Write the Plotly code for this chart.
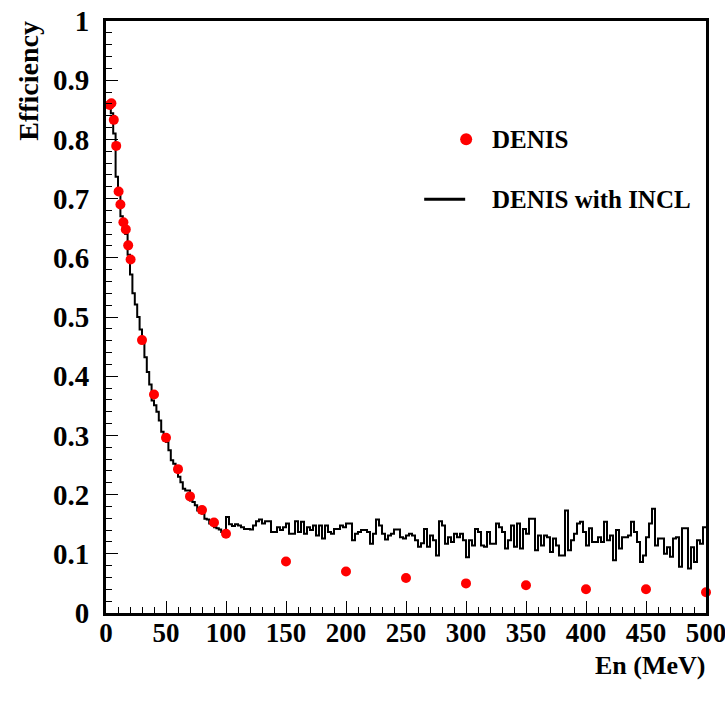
import numpy as np
import plotly.graph_objects as go

# ---- DENIS measured points ----
denis_en = [3, 4.5, 6.5, 8.5, 10.5, 12, 14.5, 16.5, 18.5, 20.5,
            30, 40, 50, 60, 70, 80, 90, 100,
            150, 200, 250, 300, 350, 400, 450, 500]
denis_eff = [0.858, 0.861, 0.833, 0.789, 0.712, 0.690, 0.660, 0.648, 0.621, 0.597,
             0.461, 0.369, 0.296, 0.243, 0.197, 0.174, 0.153, 0.134,
             0.087, 0.070, 0.059, 0.050, 0.047, 0.040, 0.040, 0.035]

# ---- DENIS with INCL histogram (2 MeV bins below 100 MeV, 2.5 MeV bins above) ----
incl_0_100 = [0.862, 0.855, 0.844, 0.810, 0.737, 0.712, 0.670, 0.658, 0.640, 0.605, 0.572,
              0.540, 0.521, 0.500, 0.479, 0.458, 0.432, 0.407, 0.386, 0.359, 0.351, 0.340,
              0.325, 0.306, 0.292, 0.289, 0.275, 0.258, 0.252, 0.238, 0.230, 0.221, 0.210,
              0.207, 0.207, 0.190, 0.1875, 0.182, 0.173, 0.169, 0.168, 0.159, 0.158, 0.151,
              0.149, 0.145, 0.143, 0.141, 0.137, 0.134]
incl_100_200 = [0.162, 0.150, 0.147, 0.150, 0.148, 0.145, 0.142, 0.142, 0.141, 0.148,
                0.155, 0.158, 0.151, 0.155, 0.155, 0.137, 0.137, 0.145, 0.140, 0.145,
                0.151, 0.134, 0.134, 0.155, 0.137, 0.154, 0.134, 0.145, 0.140, 0.148,
                0.131, 0.148, 0.126, 0.148, 0.137, 0.134, 0.142, 0.142, 0.148, 0.145]
incl_200_300 = [0.151, 0.151, 0.123, 0.134, 0.137, 0.140, 0.140, 0.137, 0.117, 0.134,
                0.158, 0.148, 0.134, 0.124, 0.131, 0.134, 0.141, 0.141, 0.128, 0.126,
                0.131, 0.134, 0.131, 0.123, 0.112, 0.118, 0.142, 0.112, 0.131, 0.123,
                0.097, 0.155, 0.148, 0.117, 0.128, 0.120, 0.134, 0.128, 0.134, 0.123]
incl_300_400 = [0.094, 0.123, 0.114, 0.142, 0.137, 0.114, 0.112, 0.137, 0.117, 0.117,
                0.151, 0.145, 0.137, 0.109, 0.123, 0.148, 0.112, 0.151, 0.109, 0.142,
                0.134, 0.159, 0.159, 0.106, 0.131, 0.114, 0.131, 0.128, 0.103, 0.126,
                0.114, 0.097, 0.097, 0.173, 0.106, 0.123, 0.134, 0.151, 0.154, 0.137]
incl_400_500 = [0.114, 0.143, 0.120, 0.120, 0.128, 0.120, 0.154, 0.123, 0.131, 0.089,
                0.140, 0.109, 0.128, 0.128, 0.131, 0.154, 0.137, 0.120, 0.086, 0.097,
                0.128, 0.151, 0.176, 0.114, 0.126, 0.126, 0.100, 0.111, 0.095, 0.126,
                0.128, 0.078, 0.143, 0.143, 0.075, 0.111, 0.086, 0.123, 0.117, 0.145]

low_bin_width = 2.0
high_bin_width = 2.5

incl_vals = incl_0_100 + incl_100_200 + incl_200_300 + incl_300_400 + incl_400_500
low_edges = list(np.arange(len(incl_0_100)) * low_bin_width)
n_high = len(incl_vals) - len(incl_0_100)
high_edges = list(100 + np.arange(n_high + 1) * high_bin_width)
step_x = low_edges + high_edges
step_y = incl_vals + [incl_vals[-1]]

FONT = "Liberation Serif"

fig = go.Figure()
fig.add_trace(go.Scatter(x=step_x, y=step_y, mode="lines", line_shape="hv",
                         line=dict(color="black", width=2), name="DENIS with INCL",
                         showlegend=False))
fig.add_trace(go.Scatter(x=denis_en, y=denis_eff, mode="markers",
                         marker=dict(color="#ff0000", size=10), name="DENIS",
                         showlegend=False, cliponaxis=False))

# body margin is removed by post_script, so the figure fills the window
W, H = 725, 706
L, R, T, B = 105.6, 725 - 706, 20.7, 706 - 612.7
pw, ph = W - L - R, H - T - B

def px2paper(x, y):
    """screen pixel -> paper coordinates"""
    return (x - L) / pw, (H - B - y) / ph

# manual legend
dx, dy = px2paper(466, 139)
fig.add_shape(type="circle", xref="paper", yref="paper",
              x0=dx - 6 / pw, x1=dx + 6 / pw, y0=dy - 6 / ph, y1=dy + 6 / ph,
              fillcolor="#ff0000", line=dict(width=0))
lx0, ly = px2paper(424, 199)
lx1, _ = px2paper(465, 199)
fig.add_shape(type="line", xref="paper", yref="paper", x0=lx0, x1=lx1, y0=ly, y1=ly,
              line=dict(color="black", width=3))
tx, _ = px2paper(490, 0)
fig.add_annotation(xref="paper", yref="paper", x=tx, y=dy, text="<b>DENIS</b>",
                   showarrow=False, xanchor="left", yanchor="middle",
                   font=dict(family=FONT, size=25, color="black"))
fig.add_annotation(xref="paper", yref="paper", x=tx, y=ly, text="<b>DENIS with INCL</b>",
                   showarrow=False, xanchor="left", yanchor="middle",
                   font=dict(family=FONT, size=25, color="black"))

# axis titles
fig.add_annotation(xref="paper", yref="paper", x=px2paper(707, 0)[0], y=px2paper(0, 665)[1],
                   text="<b>En (MeV)</b>", showarrow=False, xanchor="right", yanchor="middle",
                   font=dict(family=FONT, size=26, color="black"))
fig.add_annotation(xref="paper", yref="paper", x=px2paper(28, 0)[0], y=px2paper(0, 18)[1],
                   text="<b>Efficiency</b>", showarrow=False, textangle=-90,
                   xanchor="center", yanchor="top",
                   font=dict(family=FONT, size=28, color="black"))

axis_common = dict(showgrid=False, zeroline=False, showline=True, linecolor="black",
                   linewidth=3, mirror=True, ticks="inside", tickcolor="black",
                   tickwidth=1, ticklen=12, ticklabeloverflow="allow")
fig.update_xaxes(range=[0, 500], tick0=0, dtick=50, tickformat="d",
                 ticklabelstandoff=-6,
                 tickfont=dict(family=FONT, size=27, color="black", weight="bold"),
                 minor=dict(ticks="inside", ticklen=6, dtick=10, tickcolor="black"),
                 **axis_common)
fig.update_yaxes(range=[0, 1], tick0=0, dtick=0.1, tickformat="",
                 ticklabelstandoff=8,
                 tickfont=dict(family=FONT, size=29, color="black", weight="bold"),
                 minor=dict(ticks="inside", ticklen=6, dtick=0.02, tickcolor="black"),
                 **axis_common)
fig.update_layout(width=W, height=H, plot_bgcolor="white", paper_bgcolor="white",
                  margin=dict(l=L, r=R, t=T, b=B, autoexpand=False),
                  font=dict(family=FONT, color="black"))
fig.write_html("out.html", config={"displayModeBar": False},
               post_script="document.body.style.margin='0px';document.body.style.overflow='hidden';")
